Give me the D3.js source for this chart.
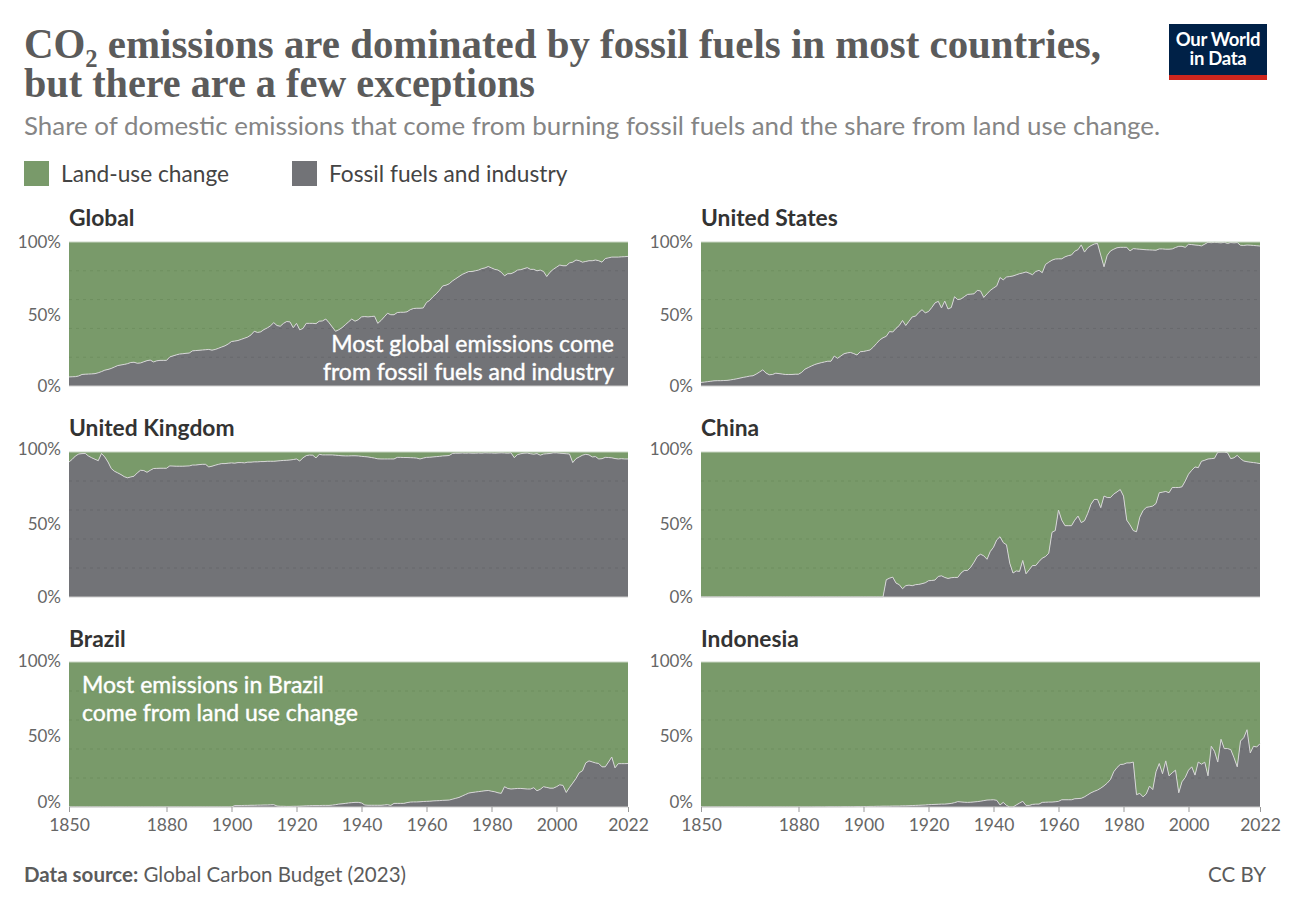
<!DOCTYPE html>
<html lang="en">
<head>
    <meta charset="UTF-8">
    <title>CO2 emissions: fossil fuels vs land use</title>
    <script src="https://d3js.org/d3.v7.min.js"></script>
    <style>
        body { margin: 0; padding: 0; background: #fff; font-family: Lato, sans-serif; }
        .panel-title { font-size: 22.8px; font-weight: 700; fill: #333; }
        .y-label { font-size: 17px; fill: #666; }
        .x-label { font-size: 17.5px; fill: #666; }
        .note { font-size: 23px; fill: #fff; stroke: #fff; stroke-width: 0.4px; }
        .legend-label { font-size: 22.7px; fill: #444; }
        .footer { font-size: 20.5px; fill: #5b5b5b; }
    </style>
</head>
<body>
    <svg width="1292" height="912"></svg>
    <script>
        // Chart text
        const titleLines = ["CO₂ emissions are dominated by fossil fuels in most countries,", "but there are a few exceptions"];
        const subtitle = "Share of domestic emissions that come from burning fossil fuels and the share from land use change.";
        const legendLabels = ["Land-use change", "Fossil fuels and industry"];
        const xTicks = [1850, 1880, 1900, 1920, 1940, 1960, 1980, 2000, 2022];
        const yTicks = [0, 50, 100];
        const gridTicks = [20, 40, 60, 80];
        const firstYear = 1850;

        // Share from fossil fuels and industry, percent, one value per year (rows are decades)
        const globalShare = [
            6.3,6.4,6.5,7.0,8.0,8.2,8.3,8.4,8.6,9.2,
            10.0,11.0,11.5,12.2,13.2,14.2,14.6,15.0,15.5,16.3,
            16.5,15.8,16.0,16.8,17.6,18.0,16.7,17.5,17.8,17.8,
            17.8,20.2,20.9,21.6,22.2,22.4,22.7,22.9,24.4,24.6,
            24.8,25.0,25.2,25.4,24.9,25.4,26.2,27.1,27.9,29.2,
            30.9,31.2,31.6,32.4,33.2,34.0,35.5,38.0,37.2,37.6,
            39.2,40.3,41.8,44.0,42.0,41.5,43.5,44.8,44.5,40.5,
            43.5,39.0,40.0,43.5,43.5,43.5,43.3,45.0,45.2,46.5,
            44,41,38,39,40.5,42.5,44.5,46.5,45,46,
            48,48.2,48,48.2,48.5,43.5,45.5,48,50.5,49.5,
            49.5,51,51.2,51.2,51.5,53,53.8,54,54,54.2,
            58,59.5,62,64,66.5,69.5,70,71,73,74.5,
            76,77.5,78.5,79.5,79.5,80,80.5,81.5,82,83,
            82,81,80.5,79,76.5,78,78,79,80.5,80.8,
            81.5,82.2,81,81,80,80.5,79.5,76,79,81,
            82.5,84,83.5,83.5,85.5,86,87.5,87,86,86.5,
            87,87,87.5,87,86,88.5,89,89.5,89.5,89.5,
            89.7,89.8,90
        ];
        const usShare = [
            2.5,2.7,3.0,3.3,3.6,3.7,3.7,3.8,3.9,4.2,
            4.6,5.0,5.5,6.0,6.4,6.9,7.1,8.3,9.7,11.2,
            9.0,7.8,8.0,8.9,8.6,8.3,8.0,8.0,8.0,8.2,
            8.2,9.5,11.7,12.8,13.9,14.9,15.6,16.2,16.7,17.2,
            17.2,20.8,19.2,20.8,22.4,23.0,23.3,22.5,21.5,23.8,
            24,24.5,25,27,29.5,32,33.5,34.5,37.8,37.5,
            40,42,45.5,42,45,48,48.5,51,53,50.8,
            51.7,54.5,57.7,58.8,54.2,59,53.5,54.5,62,60,
            60.4,62,63.6,63.8,64,66.4,66,61.5,64,66.4,
            68,69.5,75.3,73.7,75.7,76,76.4,77.2,78,78.5,
            79.2,78.3,77.3,79.5,80.3,78.7,84.4,86,87.4,88.2,
            88.3,88.3,89.7,90.5,91,93.6,94.7,98,93,96,
            97.5,98.6,99,90.8,82.8,90.8,93.8,95,96,96.3,
            96.3,96.3,93.8,95.4,95.2,95,94.8,94.6,94.5,94.4,
            94.3,95.2,95.2,95,95,95.2,96.2,97,97,96.3,
            98.4,98.2,97.9,97.7,97.3,98.5,99.8,99.5,99.8,99.6,
            99.4,99.8,99,99.6,99.4,99.6,97.7,97.6,97.9,97.8,
            97.6,97.4,97.2
        ];
        const ukShare = [
            93.1,95,97.3,98.6,98.9,99,97.2,96,95,94,
            99,96.6,93.1,88.6,86.7,85.6,84.4,83,82.2,82.8,
            83.3,85.6,87.4,87.2,86,87.4,88.6,88.7,88.8,88.8,
            88.8,90.4,90.3,90.2,90.2,90.2,90.3,90.4,91,91,
            91.3,91.5,91.5,89.7,90.2,90.9,91.5,92,92,92.3,
            92.5,92.3,92.7,92.7,92.5,93,93,93.2,93.2,93.4,
            93.4,93.6,93.6,93.6,93.8,94,94.2,94.3,94.5,94.8,
            95.2,93.8,96,97.5,97.9,97.8,95.9,98.4,98,98,
            98,98,97.8,97.6,97.4,97.3,97.3,97.4,97.4,97.3,
            97,96.8,96.6,96.2,95.8,95.3,95.2,95.2,95.2,95.2,
            95.2,96.3,96.3,96.2,96.2,96.1,96,95.8,95.2,95.8,
            96.3,96.4,96.6,96.8,97,97.3,97.4,97.6,99,99.2,
            99.2,99.3,99.2,99.3,99.2,99.2,99.3,99.2,99.4,99.3,
            99.3,99.2,99.3,99.4,99.3,99.2,99.4,96.1,98.2,98.8,
            99.2,99.3,98.8,98.5,98.9,97.8,98.6,98.8,99,99.4,
            99.4,99.2,99,98.8,98.6,92.7,95.4,96.6,97.8,98.4,
            98,96.6,96.8,95.2,95.4,96.3,96.2,96,95.5,95.2,
            95.4,95.2,95.2
        ];
        const chinaShare = [
            0,0,0,0,0,0,0,0,0,0,
            0,0,0,0,0,0,0,0,0,0,
            0,0,0,0,0,0,0,0,0,0,
            0,0,0,0,0,0,0,0,0,0,
            0,0,0,0,0,0,0,0,0,0,
            0,0,0,0,0,0,0,11.9,13,13.7,
            9.6,8.5,5.7,7.8,8.2,7.8,8.5,8.7,9.2,9.8,
            11.2,11.4,11.7,14.2,14.6,13.5,12.8,13.3,13.5,13.5,
            16.5,18.3,18.3,20.6,24,27.9,29.5,28.4,26,31.4,
            34.3,39.4,41.6,37.5,36,23.3,16.5,18,17.6,25.2,
            16,18.8,21.7,21.7,24.5,26.8,27.9,30.2,44.6,45.8,
            60,53,49.2,49.2,49.2,53,55.8,51.3,52.6,57.7,
            64,67.3,67.3,61.6,69.6,68.6,68.6,71,72.5,74.1,
            69.6,53,49.7,45.8,45,55,59.5,61.8,62.2,62.7,
            64.5,71.9,72.3,72.8,71.9,75.5,75.5,75.5,76,80,
            84.7,87.4,89.7,89.2,93.6,94.3,95.2,95.4,95.7,99.8,
            100,100,99.5,95.4,96,97.7,95.4,93.8,93.3,93,
            92.7,92.4,92
        ];
        const brazilShare = [
            0,0,0,0,0,0,0,0,0,0,
            0,0,0,0,0,0,0,0,0,0,
            0,0,0,0,0,0,0,0,0,0,
            0,0,0,0,0,0,0,0,0,0,
            0,0,0,0,0,0,0,0,0,0,
            0,1,1,1,1.1,1.1,1.2,1.2,1.3,1.3,
            1.4,1.4,1.5,1.6,0.7,0.5,0.5,0.4,0.4,0.5,
            0.5,0.6,0.7,0.8,0.9,1,1,1,1.1,1.1,
            1.1,1.3,1.6,2,2.2,2.5,2.8,3,3.2,3.2,
            2.8,1.4,1.2,1.2,1.2,1.2,1.2,1.4,1.6,1.1,
            2.5,2.5,2.5,2.5,3,3.4,3.5,3.5,3.6,3.8,
            3.9,4,4.2,4.3,4.4,4.6,4.7,4.8,5.4,6,
            6.6,7.6,8.6,9.6,10,10.3,10.6,10.9,11.2,11.4,
            10.9,10.5,9.8,9.4,14,12.8,12.4,12.6,12.8,12.8,
            12.6,12.4,12.4,13.3,11.2,12.2,14,13.5,13,13,
            14,15.3,14.9,10,13.5,16.5,19.7,23.6,25,30.4,
            31.8,31.1,30.4,30,27.7,27.7,31,34.5,27,29.9,
            29.9,29.9,30
        ];
        const indonesiaShare = [
            0,0,0,0,0,0,0,0,0,0,
            0,0,0,0,0,0,0,0,0,0,
            0,0,0,0,0,0,0,0,0,0,
            0,0,0,0,0,0.05,0.05,0.05,0.05,0.1,
            0.1,0.1,0.1,0.1,0.2,0.2,0.2,0.2,0.3,0.3,
            0.3,0.3,0.4,0.4,0.5,0.5,0.6,0.6,0.6,0.7,
            0.7,0.7,0.8,0.8,0.9,1,1.1,1.2,1.3,1.4,
            1.6,1.7,1.8,1.9,2,2,2.2,2.5,3,3.7,
            3.5,3.3,3.2,3.3,3.5,3.7,4,4.4,4.8,4.9,
            5,4.6,1.4,3.2,1.1,0,0,1.4,2.7,3.9,
            1.1,1.1,1.8,2,2,3.2,3.3,3.4,3.4,3.6,
            3.9,5,5,5,5,5.7,5.8,6,7,8.4,
            9.8,10.8,11.7,13,14.6,16.5,19,24.3,27.2,29.3,
            29.5,30.4,30.4,31,8.5,9.4,7,9,14.4,12,
            24.3,30,22.9,31.8,21.5,23.6,25.4,9.8,17.4,20.4,
            25.4,27.7,22,31,29.5,30.9,21.5,41.9,38.4,31,
            46.7,40.3,40.3,39.6,34,27.7,45.5,47.8,53.3,37.3,
            41.9,41.4,43.7
        ];

        // Layout of the small multiples
        const width = 1292, height = 912;
        const columns = [{ left: 69, right: 628 }, { left: 701, right: 1260 }];
        const rows = [
            { top: 242, bottom: 386, titleY: 226, nudge: { 100: 0, 50: 1.5, 0: 0 } },
            { top: 452, bottom: 597, titleY: 436, nudge: { 100: -3, 50: 0, 0: 0 } },
            { top: 662, bottom: 807, titleY: 647, nudge: { 100: -1, 50: 1.5, 0: -5 } }
        ];
        const panels = [
            { name: "Global", values: globalShare, col: 0, row: 0 },
            { name: "United States", values: usShare, col: 1, row: 0 },
            { name: "United Kingdom", values: ukShare, col: 0, row: 1 },
            { name: "China", values: chinaShare, col: 1, row: 1 },
            { name: "Brazil", values: brazilShare, col: 0, row: 2 },
            { name: "Indonesia", values: indonesiaShare, col: 1, row: 2 }
        ];
        const landColor = "#578145", fossilColor = "#4f5055";

        const svg = d3.select("svg");

        // Header
        svg.append("g").selectAll("text")
            .data(titleLines)
            .join("text")
            .attr("x", 24)
            .attr("y", (d, i) => 58 + i * 39)
            .attr("textLength", (d, i) => i === 0 ? 1077 : 511)
            .attr("lengthAdjust", "spacingAndGlyphs")
            .style("font-family", "'Liberation Serif', serif")
            .style("font-weight", 700)
            .style("font-size", "43px")
            .style("fill", "#5b5b5b")
            .text(d => d);

        svg.append("text")
            .attr("x", 24)
            .attr("y", 135)
            .style("font-size", "25.9px")
            .style("fill", "#858585")
            .text(subtitle);

        // Logo
        const logo = svg.append("g");
        logo.append("rect").attr("x", 1169).attr("y", 24).attr("width", 98).attr("height", 56).attr("fill", "#002147");
        logo.append("rect").attr("x", 1169).attr("y", 75).attr("width", 98).attr("height", 5).attr("fill", "#ce261e");
        logo.selectAll("text")
            .data(["Our World", "in Data"])
            .join("text")
            .attr("x", 1218)
            .attr("y", (d, i) => 46 + i * 19)
            .attr("text-anchor", "middle")
            .style("font-size", "18.5px")
            .style("font-weight", 700)
            .style("letter-spacing", "-0.3px")
            .style("fill", "#fff")
            .text(d => d);

        // Legend
        const legendX = [24, 292];
        const legend = svg.append("g").selectAll("g")
            .data(legendLabels)
            .join("g")
            .attr("transform", (d, i) => `translate(${legendX[i]},161)`);
        legend.append("rect")
            .attr("width", 25)
            .attr("height", 25)
            .attr("fill", (d, i) => i === 0 ? landColor : fossilColor)
            .attr("fill-opacity", 0.8);
        legend.append("text")
            .attr("class", "legend-label")
            .attr("x", 37)
            .attr("y", 21)
            .text(d => d);

        // One panel of stacked shares
        panels.forEach(p => {
            const col = columns[p.col], row = rows[p.row];
            const x = d3.scaleLinear().domain([firstYear, 2022]).range([col.left, col.right]);
            const y = d3.scaleLinear().domain([0, 100]).range([row.bottom, row.top]);
            const points = p.values.map((v, i) => ({ year: firstYear + i, value: v }));
            const g = svg.append("g");

            // Dashed grid sits under the see-through areas
            g.append("g")
                .selectAll("line")
                .data(gridTicks)
                .join("line")
                .attr("x1", col.left)
                .attr("x2", col.right)
                .attr("y1", d => y(d))
                .attr("y2", d => y(d))
                .attr("stroke", "#c4c4c4")
                .attr("stroke-dasharray", "3,4");

            const fossilArea = d3.area().x(d => x(d.year)).y0(y(0)).y1(d => y(d.value));
            const landArea = d3.area().x(d => x(d.year)).y0(y(100)).y1(d => y(d.value));
            const edge = d3.line().x(d => x(d.year)).y(d => y(d.value));

            g.append("path").datum(points).attr("d", landArea).attr("fill", landColor).attr("fill-opacity", 0.8);
            g.append("path").datum(points).attr("d", fossilArea).attr("fill", fossilColor).attr("fill-opacity", 0.8);
            g.append("path").datum(points).attr("d", edge)
                .attr("fill", "none")
                .attr("stroke", "#d6d6d6")
                .attr("stroke-width", 1);
            g.append("line")
                .attr("x1", col.left).attr("x2", col.right)
                .attr("y1", y(100)).attr("y2", y(100))
                .attr("stroke", "#c9d6c4");
            g.append("line")
                .attr("x1", col.left).attr("x2", col.right)
                .attr("y1", y(0)).attr("y2", y(0))
                .attr("stroke", "#cfcfcf");

            g.append("text")
                .attr("class", "panel-title")
                .attr("x", col.left)
                .attr("y", row.titleY)
                .text(p.name);

            // y labels
            const yAxis = g.append("g")
                .attr("transform", `translate(${col.left},0)`)
                .call(d3.axisLeft(y).tickValues(yTicks).tickFormat(d => d + "%").tickSize(0).tickPadding(8));
            yAxis.select(".domain").remove();
            yAxis.selectAll("text")
                .attr("class", "y-label")
                .attr("transform", d => `translate(0,${row.nudge[d]})`)
                .style("font-family", "Lato, sans-serif");

            // x axis only under the bottom row
            if (p.row === 2) {
                const xAxis = g.append("g")
                    .attr("transform", `translate(0,${row.bottom})`)
                    .call(d3.axisBottom(x).tickValues(xTicks).tickFormat(d3.format("d")).tickSize(5).tickPadding(7));
                xAxis.select(".domain").remove();
                xAxis.selectAll("line").attr("stroke", "#999");
                xAxis.selectAll("text")
                    .attr("class", "x-label")
                    .style("font-family", "Lato, sans-serif");
            }
        });

        // Notes inside the panels
        const globalNote = ["Most global emissions come", "from fossil fuels and industry"];
        const brazilNote = ["Most emissions in Brazil", "come from land use change"];
        svg.append("g").selectAll("text")
            .data(globalNote)
            .join("text")
            .attr("class", "note")
            .attr("x", 614)
            .attr("y", (d, i) => 352 + i * 28)
            .attr("text-anchor", "end")
            .text(d => d);
        svg.append("g").selectAll("text")
            .data(brazilNote)
            .join("text")
            .attr("class", "note")
            .attr("x", 82)
            .attr("y", (d, i) => 693 + i * 27.5)
            .text(d => d);

        // Footer
        const source = svg.append("text").attr("class", "footer").attr("x", 24).attr("y", 882);
        source.append("tspan").style("font-weight", 700).text("Data source:");
        source.append("tspan").text(" Global Carbon Budget (2023)");
        svg.append("text")
            .attr("class", "footer")
            .attr("x", 1266)
            .attr("y", 882)
            .attr("text-anchor", "end")
            .text("CC BY");
    </script>
</body>
</html>
